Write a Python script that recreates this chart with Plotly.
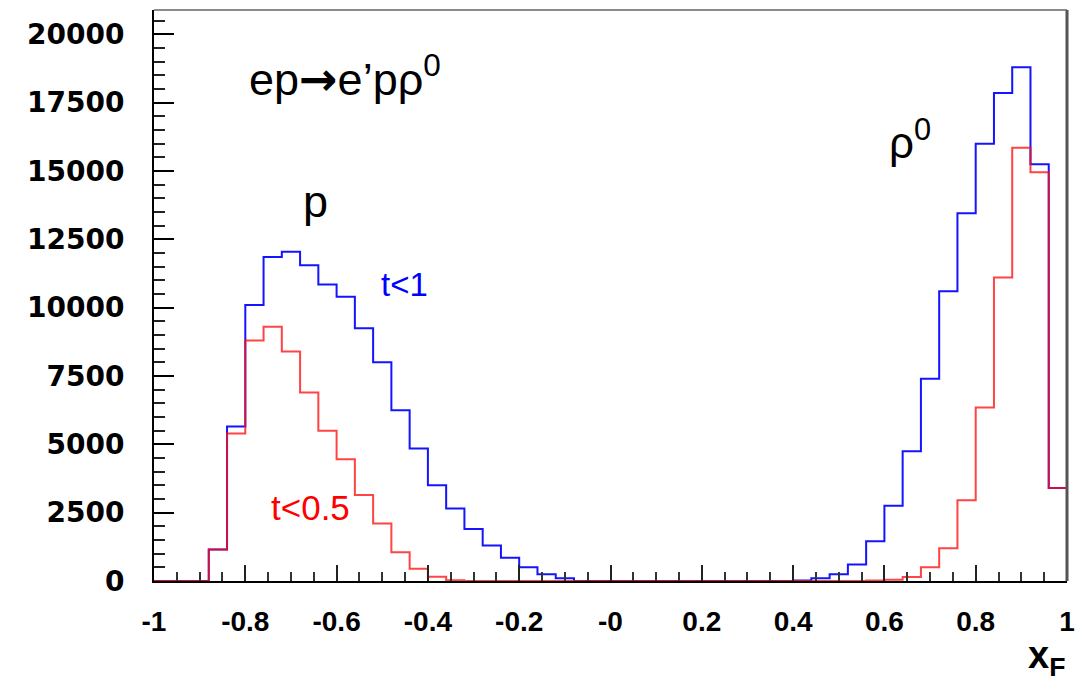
import numpy as np
import plotly.graph_objects as go

# x_F histogram: 50 bins of width 0.04 between -1 and 1
bin_lo, bin_hi, n_bins = -1.0, 1.0, 50

# events per bin, t < 1 selection
counts_t1 = [
    0, 0, 0, 1150, 5650, 10100, 11850, 12050, 11550, 10850,
    10400, 9250, 8000, 6250, 4850, 3500, 2650, 1900, 1300, 850,
    500, 250, 100, 0, 0, 0, 0, 0, 0, 0,
    0, 0, 0, 0, 0, 20, 100, 250, 600, 1450,
    2750, 4750, 7400, 10600, 13450, 16000, 17850, 18800, 15250, 3400,
]

# events per bin, t < 0.5 selection
counts_t05 = [
    0, 0, 0, 1150, 5400, 8800, 9300, 8400, 6900, 5500,
    4450, 3150, 2100, 1050, 450, 160, 30, 0, 0, 0,
    0, 0, 0, 0, 0, 0, 0, 0, 0, 0,
    0, 0, 0, 0, 0, 0, 0, 0, 0, 20,
    50, 150, 500, 1200, 2950, 6350, 11100, 15850, 14950, 3400,
]

x_tickvals = [-1, -0.8, -0.6, -0.4, -0.2, 0, 0.2, 0.4, 0.6, 0.8, 1]
x_ticktext = ["-1", "-0.8", "-0.6", "-0.4", "-0.2", "-0", "0.2", "0.4", "0.6", "0.8", "1"]
y_tickvals = [0, 2500, 5000, 7500, 10000, 12500, 15000, 17500, 20000]
y_ticktext = [str(v) for v in y_tickvals]

edges = np.linspace(bin_lo, bin_hi, n_bins + 1)


def step_outline(counts):
    """Histogram outline: drop to zero at both ends, steps in between."""
    xs = np.concatenate([[edges[0]], edges, [edges[-1]]])
    ys = np.concatenate([[0], counts, [counts[-1]], [0]])
    return xs, ys


fig = go.Figure()
for counts, colour, opac in [(counts_t1, "#1414ff", 1.0), (counts_t05, "#ff1010", 0.78)]:
    xs, ys = step_outline(np.array(counts, dtype=float))
    fig.add_trace(go.Scatter(
        x=xs, y=ys, mode="lines", line=dict(color=colour, width=2, shape="hv"),
        opacity=opac, hoverinfo="skip", showlegend=False,
    ))

txt_font = "Liberation Sans, Arial, sans-serif"
arrow = '<span style="font-family:DejaVu Sans;font-weight:bold;font-size:46px">\u2192</span>'
annotations = [
    dict(x=-0.797, y=18450, text="ep" + arrow + "e\u2019p\u03c1<sup>0</sup>", xanchor="left",
         font=dict(size=45, color="black", family=txt_font)),
    dict(x=-0.647, y=13900, text="p", font=dict(size=45, color="black", family=txt_font)),
    dict(x=0.606, y=16150, text="\u03c1<sup>0</sup>", xanchor="left",
         font=dict(size=44, color="black", family=txt_font)),
    dict(x=-0.451, y=10850, text="t&lt;1", font=dict(size=33, color="#0000ff", family=txt_font)),
    dict(x=-0.658, y=2680, text="t&lt;0.5", font=dict(size=35, color="#ff0000", family=txt_font)),
    dict(x=1.0, y=-0.135, xref="paper", yref="paper", xanchor="right", yanchor="middle",
         text="<b>x<sub>F</sub></b>", font=dict(size=38, color="black", family=txt_font)),
]
for a in annotations:
    a.setdefault("xref", "x")
    a.setdefault("yref", "y")
    a.setdefault("showarrow", False)
    fig.add_annotation(**a)

# frame: grey top and right edges
fig.add_shape(type="line", xref="paper", yref="paper", x0=1, x1=1, y0=0, y1=1,
              line=dict(color="#555555", width=3))
fig.add_shape(type="line", xref="paper", yref="paper", x0=0, x1=1, y0=1, y1=1,
              line=dict(color="#666666", width=1.5))

fig.update_xaxes(
    range=[-1, 1], tickmode="array", tickvals=x_tickvals, ticktext=x_ticktext,
    ticks="inside", ticklen=16, tickwidth=2, tickcolor="#222",
    minor=dict(ticks="inside", tickmode="linear", tick0=-1, dtick=0.05,
               ticklen=9, tickwidth=1.5, tickcolor="#333"),
    showline=True, linecolor="black", linewidth=2, showgrid=False, zeroline=False,
    tickfont=dict(family="Liberation Sans, Arial", size=28, color="black", weight="bold"),
    ticklabelstandoff=14,
)
fig.update_yaxes(
    range=[0, 20890], tickmode="array", tickvals=y_tickvals, ticktext=y_ticktext,
    ticks="inside", ticklen=20, tickwidth=2, tickcolor="black",
    minor=dict(ticks="inside", tickmode="linear", tick0=0, dtick=500,
               ticklen=11, tickwidth=1.5, tickcolor="#222"),
    showline=True, linecolor="black", linewidth=2, showgrid=False, zeroline=False,
    tickfont=dict(family="DejaVu Sans, Liberation Sans", size=28, color="black", weight="bold"),
    ticklabelstandoff=22,
)
fig.update_layout(
    width=1085, height=683,
    margin=dict(l=154, r=14, t=10, b=102),
    plot_bgcolor="white", paper_bgcolor="white",
)

fig.write_html("out.html")
